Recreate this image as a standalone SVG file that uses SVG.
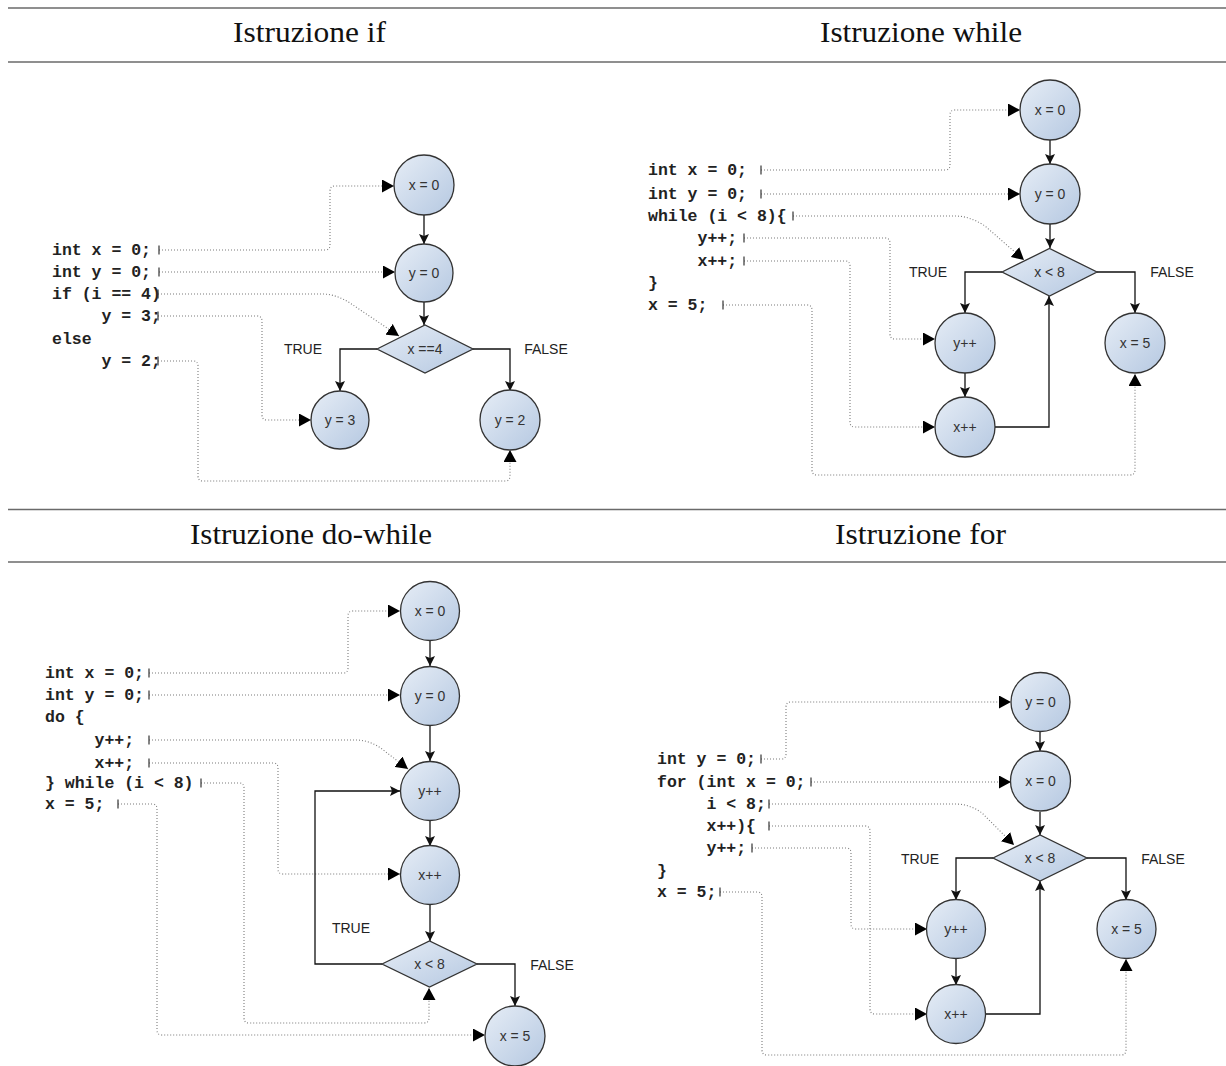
<svg xmlns="http://www.w3.org/2000/svg" width="1226" height="1066" viewBox="0 0 1226 1066">
  <style>
    .rule { stroke: #6a6a6a; stroke-width: 1.4; }
    .head { font-family: "Liberation Serif", "Times New Roman", serif; font-size: 29px; fill: #111; }
    .code { font-family: "Liberation Mono", "Courier New", monospace; font-weight: bold; font-size: 16.5px; fill: #222; }
    .node { fill: url(#nodeFill); stroke: #333; stroke-width: 1.3; }
    .ntxt { font-family: "Liberation Sans", Arial, sans-serif; font-size: 14px; fill: #333; text-anchor: middle; }
    .lbl { font-family: "Liberation Sans", Arial, sans-serif; font-size: 14px; fill: #222; text-anchor: middle; }
    .flow { fill: none; stroke: #111; stroke-width: 1.3; marker-end: url(#arrow); }
    .map { fill: none; stroke: #7a7a7a; stroke-width: 1.1; stroke-dasharray: 1 2; marker-start: url(#tick); marker-end: url(#bigArrow); }
  </style>
  <defs>
    <linearGradient id="nodeFill" x1="0" y1="0" x2="1" y2="1">
      <stop offset="0" stop-color="#e6edf6"/>
      <stop offset="1" stop-color="#b5c8e1"/>
    </linearGradient>
    <marker id="arrow" markerUnits="userSpaceOnUse" viewBox="0 0 10 10" refX="10" refY="5" markerWidth="10" markerHeight="10" orient="auto">
      <path d="M0,0 L10,5 L0,10 L2,5 z" fill="#111"/>
    </marker>
    <marker id="bigArrow" markerUnits="userSpaceOnUse" viewBox="0 0 12 13" refX="12" refY="6.5" markerWidth="12" markerHeight="13" orient="auto">
      <path d="M0,0 L12,6.5 L0,13 z" fill="#000"/>
    </marker>
    <marker id="tick" markerUnits="userSpaceOnUse" viewBox="-2 -6 4 12" refX="0" refY="0" markerWidth="4" markerHeight="12" orient="auto">
      <path d="M0,-4.5 V4.5" stroke="#333" stroke-width="1.2"/>
    </marker>
  </defs>

  <rect width="1226" height="1066" fill="#fff"/>

  <!-- table rules and column headings -->
  <g id="table">
    <line class="rule" x1="8" y1="8" x2="1226" y2="8"/>
    <line class="rule" x1="8" y1="62" x2="1226" y2="62"/>
    <line class="rule" x1="8" y1="509.5" x2="1226" y2="509.5"/>
    <line class="rule" x1="8" y1="562" x2="1226" y2="562"/>
    <text class="head" x="233" y="42" textLength="153" lengthAdjust="spacingAndGlyphs">Istruzione if</text>
    <text class="head" x="820" y="42" textLength="202" lengthAdjust="spacingAndGlyphs">Istruzione while</text>
    <text class="head" x="190" y="544" textLength="242" lengthAdjust="spacingAndGlyphs">Istruzione do-while</text>
    <text class="head" x="835" y="544" textLength="171" lengthAdjust="spacingAndGlyphs">Istruzione for</text>
  </g>

  <!-- ===== if ===== -->
  <g id="if-code" class="code">
    <text x="52" y="255">int x = 0;</text>
    <text x="52" y="277">int y = 0;</text>
    <text x="52" y="299">if (i == 4)</text>
    <text x="101.5" y="321">y = 3;</text>
    <text x="52" y="344">else</text>
    <text x="101.5" y="366">y = 2;</text>
  </g>
  <g id="if-edges">
    <path class="map" d="M159 250 H325 Q330 250 330 245 V191 Q330 186 335 186 H394"/>
    <path class="map" d="M159 272 H395"/>
    <path class="map" d="M158 294 H322 Q336 294 350 303 L399 336"/>
    <path class="map" d="M158 316 H257 Q262 316 262 321 V415 Q262 420 267 420 H311"/>
    <path class="map" d="M158 361 H193 Q198 361 198 366 V476 Q198 481 203 481 H505 Q510 481 510 476 V450"/>
    <path class="flow" d="M424 215 V244"/>
    <path class="flow" d="M424 302 V325"/>
    <path class="flow" d="M377 349 H340 V391"/>
    <path class="flow" d="M473 349 H510 V391"/>
    <text class="lbl" x="303" y="354">TRUE</text>
    <text class="lbl" x="546" y="354">FALSE</text>
  </g>
  <g id="if-x0"><circle class="node" cx="424" cy="185" r="30"/><text class="ntxt" x="424" y="190">x = 0</text></g>
  <g id="if-y0"><circle class="node" cx="424" cy="273" r="29"/><text class="ntxt" x="424" y="278">y = 0</text></g>
  <g id="if-cond"><polygon class="node" points="377,349 425,325 473,349 425,373"/><text class="ntxt" x="425" y="354">x ==4</text></g>
  <g id="if-y3"><circle class="node" cx="340" cy="420" r="29"/><text class="ntxt" x="340" y="425">y = 3</text></g>
  <g id="if-y2"><circle class="node" cx="510" cy="420" r="30"/><text class="ntxt" x="510" y="425">y = 2</text></g>

  <!-- ===== while ===== -->
  <g id="while-code" class="code">
    <text x="648" y="175">int x = 0;</text>
    <text x="648" y="199">int y = 0;</text>
    <text x="648" y="221">while (i &lt; 8){</text>
    <text x="697.5" y="243">y++;</text>
    <text x="697.5" y="266">x++;</text>
    <text x="648" y="288">}</text>
    <text x="648" y="310">x = 5;</text>
  </g>
  <g id="while-edges">
    <path class="map" d="M761 170 H945 Q950 170 950 165 V115 Q950 110 955 110 H1020"/>
    <path class="map" d="M761 194 H1020"/>
    <path class="map" d="M793 216 H955 Q970 216 985 226 L1024 260"/>
    <path class="map" d="M744 238 H885 Q890 238 890 243 V334 Q890 339 895 339 H935"/>
    <path class="map" d="M744 261 H845 Q850 261 850 266 V422 Q850 427 855 427 H935"/>
    <path class="map" d="M723 305 H807 Q812 305 812 310 V470 Q812 475 817 475 H1130 Q1135 475 1135 470 V374"/>
    <path class="flow" d="M1050 140 V164"/>
    <path class="flow" d="M1050 224 V248"/>
    <path class="flow" d="M1002 272 H965 V313"/>
    <path class="flow" d="M1097 272 H1135 V313"/>
    <path class="flow" d="M965 373 V397"/>
    <path class="flow" d="M995 427 H1049 V296"/>
    <text class="lbl" x="928" y="277">TRUE</text>
    <text class="lbl" x="1172" y="277">FALSE</text>
  </g>
  <g id="while-x0"><circle class="node" cx="1050" cy="110" r="30"/><text class="ntxt" x="1050" y="115">x = 0</text></g>
  <g id="while-y0"><circle class="node" cx="1050" cy="194" r="30"/><text class="ntxt" x="1050" y="199">y = 0</text></g>
  <g id="while-cond"><polygon class="node" points="1002,272 1049.5,248.5 1097,272 1049.5,296"/><text class="ntxt" x="1049.5" y="277">x &lt; 8</text></g>
  <g id="while-yinc"><circle class="node" cx="965" cy="343" r="30"/><text class="ntxt" x="965" y="348">y++</text></g>
  <g id="while-xinc"><circle class="node" cx="965" cy="427" r="30"/><text class="ntxt" x="965" y="432">x++</text></g>
  <g id="while-x5"><circle class="node" cx="1135" cy="343" r="30"/><text class="ntxt" x="1135" y="348">x = 5</text></g>

  <!-- ===== do-while ===== -->
  <g id="dowhile-code" class="code">
    <text x="45" y="678">int x = 0;</text>
    <text x="45" y="700">int y = 0;</text>
    <text x="45" y="722">do {</text>
    <text x="94.5" y="745">y++;</text>
    <text x="94.5" y="768">x++;</text>
    <text x="45" y="788">} while (i &lt; 8)</text>
    <text x="45" y="809">x = 5;</text>
  </g>
  <g id="dowhile-edges">
    <path class="map" d="M149 673 H343 Q348 673 348 668 V616 Q348 611 353 611 H400"/>
    <path class="map" d="M149 695 H400"/>
    <path class="map" d="M149 740 H355 Q370 740 382 749 L408 769"/>
    <path class="map" d="M149 763 H273 Q278 763 278 768 V869 Q278 874 283 874 H400"/>
    <path class="map" d="M201 783 H239 Q244 783 244 788 V1018 Q244 1023 249 1023 H424 Q429 1023 429 1018 V988"/>
    <path class="map" d="M118 804 H152 Q157 804 157 809 V1030 Q157 1035 162 1035 H485"/>
    <path class="flow" d="M430 641 V666"/>
    <path class="flow" d="M430 726 V761"/>
    <path class="flow" d="M430 821 V846"/>
    <path class="flow" d="M430 905 V941"/>
    <path class="flow" d="M382 964 H315 V791 H400"/>
    <path class="flow" d="M477 964 H515 V1006"/>
    <text class="lbl" x="351" y="933">TRUE</text>
    <text class="lbl" x="552" y="970">FALSE</text>
  </g>
  <g id="dowhile-x0"><circle class="node" cx="430" cy="611" r="29.5"/><text class="ntxt" x="430" y="616">x = 0</text></g>
  <g id="dowhile-y0"><circle class="node" cx="430" cy="696" r="29.5"/><text class="ntxt" x="430" y="701">y = 0</text></g>
  <g id="dowhile-yinc"><circle class="node" cx="430" cy="791" r="29.5"/><text class="ntxt" x="430" y="796">y++</text></g>
  <g id="dowhile-xinc"><circle class="node" cx="430" cy="875" r="29.5"/><text class="ntxt" x="430" y="880">x++</text></g>
  <g id="dowhile-cond"><polygon class="node" points="382,964 429.5,941 477,964 429.5,987"/><text class="ntxt" x="429.5" y="969">x &lt; 8</text></g>
  <g id="dowhile-x5"><circle class="node" cx="515" cy="1036" r="30"/><text class="ntxt" x="515" y="1041">x = 5</text></g>

  <!-- ===== for ===== -->
  <g id="for-code" class="code">
    <text x="657" y="764">int y = 0;</text>
    <text x="657" y="787">for (int x = 0;</text>
    <text x="706.5" y="809">i &lt; 8;</text>
    <text x="706.5" y="831">x++){</text>
    <text x="706.5" y="853">y++;</text>
    <text x="657" y="876">}</text>
    <text x="657" y="897">x = 5;</text>
  </g>
  <g id="for-edges">
    <path class="map" d="M761 759 H781 Q786 759 786 754 V707 Q786 702 791 702 H1011"/>
    <path class="map" d="M811 782 H1011"/>
    <path class="map" d="M769 804 H955 Q970 804 982 813 L1014 845"/>
    <path class="map" d="M769 826 H865 Q870 826 870 831 V1009 Q870 1014 875 1014 H927"/>
    <path class="map" d="M752 848 H846 Q851 848 851 853 V924 Q851 929 856 929 H927"/>
    <path class="map" d="M720 892 H757 Q762 892 762 897 V1050 Q762 1055 767 1055 H1121 Q1126 1055 1126 1050 V959"/>
    <path class="flow" d="M1040 732 V751"/>
    <path class="flow" d="M1040 812 V835"/>
    <path class="flow" d="M993 858 H956 V900"/>
    <path class="flow" d="M1087 858 H1126 V900"/>
    <path class="flow" d="M956 959 V985"/>
    <path class="flow" d="M986 1014 H1040 V881"/>
    <text class="lbl" x="920" y="864">TRUE</text>
    <text class="lbl" x="1163" y="864">FALSE</text>
  </g>
  <g id="for-y0"><circle class="node" cx="1040.5" cy="702" r="29.5"/><text class="ntxt" x="1040.5" y="707">y = 0</text></g>
  <g id="for-x0"><circle class="node" cx="1040.5" cy="781" r="30"/><text class="ntxt" x="1040.5" y="786">x = 0</text></g>
  <g id="for-cond"><polygon class="node" points="993,858 1040,835 1087,858 1040,881"/><text class="ntxt" x="1040" y="863">x &lt; 8</text></g>
  <g id="for-yinc"><circle class="node" cx="956" cy="929" r="29.5"/><text class="ntxt" x="956" y="934">y++</text></g>
  <g id="for-xinc"><circle class="node" cx="956" cy="1014" r="29.5"/><text class="ntxt" x="956" y="1019">x++</text></g>
  <g id="for-x5"><circle class="node" cx="1126.5" cy="929" r="29.5"/><text class="ntxt" x="1126.5" y="934">x = 5</text></g>
</svg>
